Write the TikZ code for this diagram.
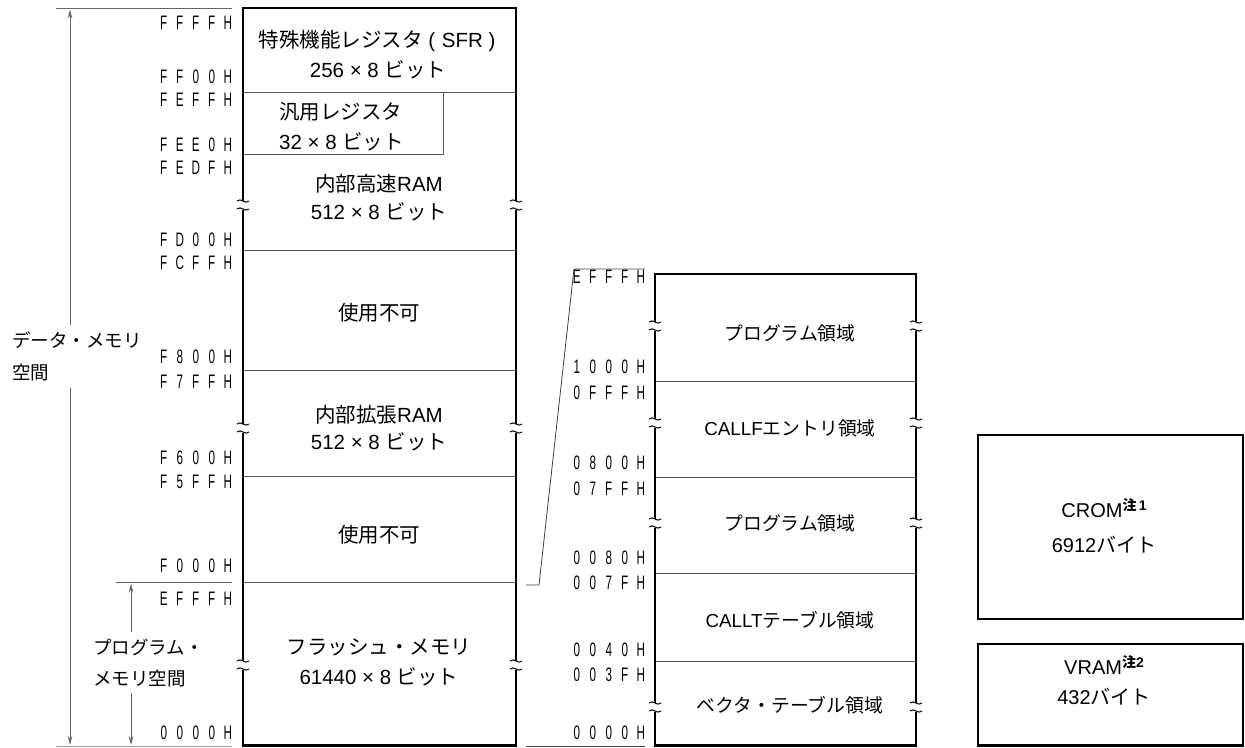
\documentclass[tikz,border=0pt]{standalone}
\usepackage{fontspec}
\setmainfont{Liberation Sans}
\newfontfamily\jp{Noto Sans CJK JP}
\newfontfamily\addrfont[FakeStretch=0.6]{Liberation Sans}
\usetikzlibrary{arrows.meta}
\newcommand\adc[1]{\makebox[16pt][c]{#1}}
\newcommand\ad[5]{{\addrfont\fontsize{19.5}{20}\selectfont\adc{#1}\adc{#2}\adc{#3}\adc{#4}\adc{#5}}}
\newcommand\notemark[1]{\raisebox{7pt}{\fontsize{14}{14}\selectfont\bfseries{\jp 注}#1}}
\tikzset{
  pics/brk/.style={code={
    \fill[white] (-8,-4.5) rectangle (8,4.5);
    \draw[line width=1pt] (-6,-4) .. controls (-2,-8) and (2,0) .. (6,-4);
    \draw[line width=1pt] (-6,4) .. controls (-2,0) and (2,8) .. (6,4);
  }}
}
\begin{document}
\begin{tikzpicture}[x=1pt,y=-1pt,
  every node/.style={inner sep=0pt, font=\fontsize{18.5}{22}\selectfont},
  bigtxt/.style={font=\fontsize{20.5}{24}\selectfont},
  midtxt/.style={font=\fontsize{18.8}{22}\selectfont},
  boxtxt/.style={font=\fontsize{20}{24}\selectfont},
  memline/.style={line width=2.2pt, black},
  divline/.style={line width=0.9pt, black!65},
  guide/.style={line width=0.8pt, black!60},
  arr/.style={guide, -{Stealth[length=9pt,width=4.5pt]}},
  addrL/.style={anchor=east},
]
\useasboundingbox (0,0) rectangle (1245,747);

% ---------- main column ----------
\draw[divline] (243,92) -- (516,92);
\draw[divline] (243,154) -- (443,154) -- (443,92);
\draw[divline] (243,250) -- (516,250);
\draw[divline] (243,370) -- (516,370);
\draw[divline] (243,476) -- (516,476);
\draw[divline] (243,582) -- (516,582);
\draw[memline] (243,8) rectangle (516,745.5);
\foreach \yy in {205,428,665} {
  \pic at (243,\yy) {brk};
  \pic at (516,\yy) {brk};
}

\node[bigtxt] (sfr1) at (377,41) {{\jp 特殊機能レジスタ}\ (\,\,SFR\ )};
\node[bigtxt] (sfr2) at (378,70) {256 × 8 {\jp ビット}};
\node[bigtxt, anchor=west] (gr1) at (279,112) {{\jp 汎用レジスタ}};
\node[bigtxt, anchor=west] (gr2) at (279,142) {32 × 8 {\jp ビット}};
\node[bigtxt] (hr1) at (379,184) {{\jp 内部高速}RAM};
\node[bigtxt] (hr2) at (379,212) {512 × 8 {\jp ビット}};
\node[bigtxt] (na1) at (379,313) {{\jp 使用不可}};
\node[bigtxt] (er1) at (379,415) {{\jp 内部拡張}RAM};
\node[bigtxt] (er2) at (379,442) {512 × 8 {\jp ビット}};
\node[bigtxt] (na2) at (379,535) {{\jp 使用不可}};
\node[bigtxt] (fl1) at (379,647) {{\jp フラッシュ・メモリ}};
\node[bigtxt] (fl2) at (379,677) {61440 × 8 {\jp ビット}};

% addresses main
\node[addrL] (a1) at (236,23) {\ad FFFFH};
\node[addrL] (a2) at (236,77) {\ad FF00H};
\node[addrL] (a3) at (236,100) {\ad FEFFH};
\node[addrL] (a4) at (236,145) {\ad FEE0H};
\node[addrL] (a5) at (236,168) {\ad FEDFH};
\node[addrL] (a6) at (236,240) {\ad FD00H};
\node[addrL] (a7) at (236,263) {\ad FCFFH};
\node[addrL] (a8) at (236,357) {\ad F800H};
\node[addrL] (a9) at (236,382) {\ad F7FFH};
\node[addrL] (a10) at (236,458) {\ad F600H};
\node[addrL] (a11) at (236,482) {\ad F5FFH};
\node[addrL] (a12) at (236,566) {\ad F000H};
\node[addrL] (a13) at (236,599) {\ad EFFFH};
\node[addrL] (a14) at (236,733) {\ad 0000H};

% ---------- left space arrows ----------
\coordinate (dtopL) at (56,8);  \coordinate (dtopR) at (232,8);
\coordinate (dbotL) at (56,746); \coordinate (dbotR) at (232,746);
\coordinate (ptopL) at (116,582); \coordinate (ptopR) at (232,582);
\draw[guide] (dtopL) -- (dtopR);
\draw[guide, black!35] (dbotL) -- (dbotR);
\draw[guide] (ptopL) -- (ptopR);

\node[anchor=west] (ds1) at (12,340) {{\jp データ・メモリ}};
\node[anchor=west] (ds2) at (12,372) {{\jp 空間}};
\draw[arr] (70,325) -- (70,9.5);
\draw[arr] (70,388) -- (70,745);

\node[anchor=west] (ps1) at (93,647) {{\jp プログラム・}};
\node[anchor=west] (ps2) at (93,678) {{\jp メモリ空間}};
\draw[arr] (131,632) -- (131,583.5);
\draw[arr] (131,693) -- (131,745);

% ---------- middle column ----------
\draw[divline] (655,381) -- (916,381);
\draw[divline] (655,477) -- (916,477);
\draw[divline] (655,573) -- (916,573);
\draw[divline] (655,661) -- (916,661);
\draw[memline] (655,274) rectangle (916,745.5);
\foreach \yy in {326,423,523,707} {
  \pic at (655,\yy) {brk};
  \pic at (916,\yy) {brk};
}
\node[midtxt] (m1) at (790,333) {{\jp プログラム領域}};
\node[midtxt] (m2) at (790,428) {CALLF{\jp エントリ領域}};
\node[midtxt] (m3) at (790,523) {{\jp プログラム領域}};
\node[midtxt] (m4) at (790,620) {CALLT{\jp テーブル領域}};
\node[midtxt] (m5) at (790,705) {{\jp ベクタ・テーブル領域}};

\node[addrL] (b1) at (649,277) {\ad EFFFH};
\node[addrL] (b2) at (649,367) {\ad 1000H};
\node[addrL] (b3) at (649,393) {\ad 0FFFH};
\node[addrL] (b4) at (649,463) {\ad 0800H};
\node[addrL] (b5) at (649,489) {\ad 07FFH};
\node[addrL] (b6) at (649,558) {\ad 0080H};
\node[addrL] (b7) at (649,583) {\ad 007FH};
\node[addrL] (b8) at (649,650) {\ad 0040H};
\node[addrL] (b9) at (649,675) {\ad 003FH};
\node[addrL] (b10) at (649,733) {\ad 0000H};

% connector (zoom lines)
\coordinate (z0) at (645,269);
\coordinate (z1) at (574,269);
\coordinate (z2) at (539,585);
\coordinate (z3) at (526,585);
\coordinate (w0) at (526,746);
\coordinate (w1) at (645,746);
\draw[guide, black!75] (z0) -- (z1) -- (z2) -- (z3);
\draw[guide, black!75] (w0) -- (w1);

% ---------- right boxes ----------
\draw[memline] (978,435) rectangle (1243,619);
\draw[memline] (978,644) rectangle (1243,745.5);
\node[boxtxt] (cr1) at (1104,508) {CROM\notemark{\,1}};
\node[boxtxt] (cr2) at (1104,545) {6912{\jp バイト}};
\node[boxtxt] (vr1) at (1104,665) {VRAM\notemark{2}};
\node[boxtxt] (vr2) at (1104,697) {432{\jp バイト}};
\end{tikzpicture}
\end{document}
